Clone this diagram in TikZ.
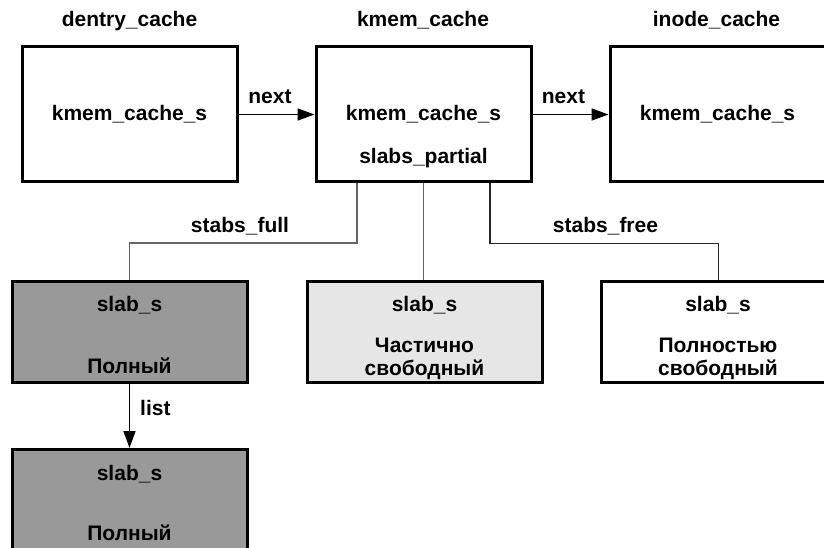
\documentclass[tikz,border=0pt]{standalone}
\usepackage{fontspec}
\setmainfont{Liberation Sans}
\usetikzlibrary{arrows.meta}
\definecolor{fullgray}{HTML}{999999}
\definecolor{partgray}{HTML}{E6E6E6}
\begin{document}
\begin{tikzpicture}[x=1pt,y=-1pt,
  every node/.style={font=\fontsize{21}{24}\selectfont\bfseries},
  txt/.style={inner sep=0pt, anchor=base},
  cachebox/.style={draw=black, line width=3pt, minimum width=215pt, minimum height=135pt, inner sep=0pt},
  slabbox/.style={draw=black, line width=3pt, minimum width=235pt, minimum height=101pt, inner sep=0pt},
  conn/.style={line width=1.3pt, draw=black!60},
  arr/.style={line width=1.5pt, -{Triangle[length=17pt,width=12pt]}}
]
\useasboundingbox (0,0) rectangle (824,548);
\clip (0,0) rectangle (824,548);

% cache boxes
\node[cachebox] (dentry) at (129.5,114.5) {};
\node[cachebox] (kmem) at (423.5,114.5) {};
\node[cachebox] (inode) at (717.5,114.5) {};

% slab boxes
\node[slabbox, fill=fullgray] (full) at (129.5,332) {};
\node[slabbox, fill=partgray] (partial) at (424.5,332) {};
\node[slabbox, fill=white] (free) at (718.5,332) {};
\node[slabbox, fill=fullgray] (full2) at (129.5,500) {};

% titles
\node[txt] (t1) at (129.5,27) {dentry\_cache};
\node[txt] (t2) at (423,27) {kmem\_cache};
\node[txt] (t3) at (716.5,27) {inode\_cache};

% cache texts
\node[txt] (d1) at (129.5,121) {kmem\_cache\_s};
\node[txt] (k1) at (423.5,121) {kmem\_cache\_s};
\node[txt] (k2) at (423.5,164) {slabs\_partial};
\node[txt] (i1) at (717.5,121) {kmem\_cache\_s};

% slab texts
\node[txt] (f1) at (129.5,311) {slab\_s};
\node[txt] (f2) at (129.5,373) {Полный};
\node[txt] (p1) at (424.5,311) {slab\_s};
\node[txt] (p2) at (424.5,352) {Частично};
\node[txt] (p3) at (424.5,375) {свободный};
\node[txt] (r1) at (718,311) {slab\_s};
\node[txt] (r2) at (718,352) {Полностью};
\node[txt] (r3) at (718,375) {свободный};
\node[txt] (g1) at (129.5,480) {slab\_s};
\node[txt] (g2) at (129.5,540) {Полный};

% next arrows
\draw[arr] (dentry.east) -- (kmem.west);
\node[txt] (n1) at (270,104) {next};
\draw[arr] (kmem.east) -- (inode.west);
\node[txt] (n2) at (563.5,104) {next};

% slab links
\draw[conn] ([xshift=-66.5pt]kmem.south) -- ++(0,59.5) -| (full.north);
\node[txt] (sf) at (240,232) {stabs\_full};
\draw[conn] (kmem.south) -- (kmem.south |- partial.north);
\draw[conn, draw=black!85] ([xshift=66.5pt]kmem.south) -- ++(0,60) -| (free.north);
\node[txt] (sfr) at (605.5,232) {stabs\_free};

% list arrow
\draw[arr] (full.south) -- (full2.north);
\node[txt, anchor=base west] (l1) at (140,415) {list};
\end{tikzpicture}
\end{document}
